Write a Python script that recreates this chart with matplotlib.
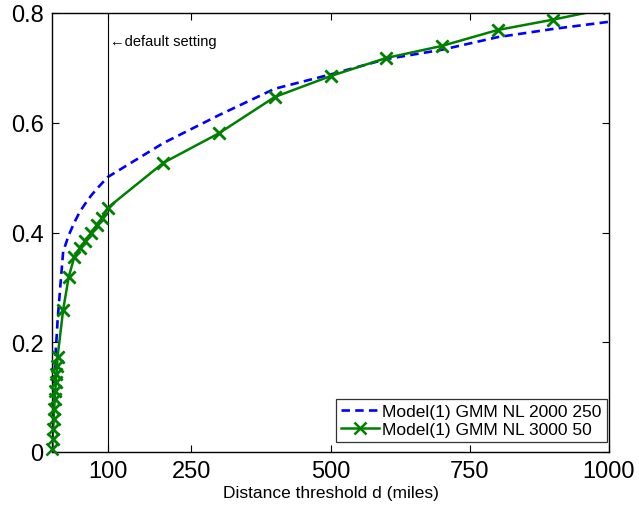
import matplotlib
matplotlib.use("Agg")
import matplotlib.pyplot as plt

plt.rcParams['font.family'] = ['Liberation Sans', 'DejaVu Sans']

d_vals = [0, 1, 2, 3, 4, 5, 6, 7, 8, 9, 10, 20, 30, 40, 50, 60, 70, 80, 90, 100,
          200, 300, 400, 500, 600, 700, 800, 900, 1000]
blue_vals = [0.0, 0.03, 0.06, 0.09, 0.12, 0.15, 0.17, 0.19, 0.205, 0.22, 0.24,
             0.365, 0.395, 0.418, 0.438, 0.453, 0.467, 0.479, 0.49, 0.501,
             0.563, 0.614, 0.662, 0.688, 0.716, 0.733, 0.756, 0.771, 0.784]
green_vals = [0.005, 0.024, 0.042, 0.060, 0.078, 0.097, 0.111, 0.128, 0.142, 0.157, 0.173,
              0.259, 0.319, 0.355, 0.372, 0.385, 0.399, 0.413, 0.427, 0.445,
              0.527, 0.581, 0.647, 0.685, 0.718, 0.740, 0.769, 0.788, 0.809]
blue_label = "Model(1) GMM NL 2000 250"
green_label = "Model(1) GMM NL 3000 50"
x_ticks = [100, 250, 500, 750, 1000]
y_ticks = [0, 0.2, 0.4, 0.6, 0.8]
y_tick_labels = ['0', '0.2', '0.4', '0.6', '0.8']
default_d = 100

fig = plt.figure(figsize=(6.39, 5.10), dpi=100)
ax = fig.add_axes([52/639, 57/510, 557/639, 439/510])

ax.set_xlim(0, 1000)
ax.set_ylim(0, 0.8)

ax.plot(d_vals, blue_vals, color='#0000FF', linestyle=(0, (3.2, 2.0)), linewidth=1.9,
        label=blue_label)
ax.plot(d_vals, green_vals, color='#008000', linestyle='-', linewidth=1.8,
        marker='x', markersize=9, markeredgewidth=1.8, label=green_label)
# markers are not clipped by the axes box (as in the original figure)
ymax = ax.get_ylim()[1]
vis = [(d, g) for d, g in zip(d_vals, green_vals) if g <= ymax]
ax.plot([p[0] for p in vis], [p[1] for p in vis], linestyle='none', color='#008000',
        marker='x', markersize=9, markeredgewidth=1.8, clip_on=False, zorder=3)

ax.axvline(default_d, color='black', linewidth=0.8)
ax.text(default_d + 4, 0.749, '\u2190default setting', fontsize=10.5,
        va='center', ha='left', family=['Liberation Sans', 'DejaVu Sans'])

ax.set_xticks(x_ticks)
ax.set_xticklabels([str(t) for t in x_ticks])
ax.set_yticks(y_ticks)
ax.set_yticklabels(y_tick_labels)
ax.tick_params(direction='in', length=5, width=0.8, labelsize=17,
               top=True, right=True, pad=6)
for s in ax.spines.values():
    s.set_linewidth(1.0)
    s.set_color('black')

ax.set_xlabel('Distance threshold d (miles)', fontsize=12.5, labelpad=2)

leg = ax.legend(loc='lower right', bbox_to_anchor=(0.9964, 0.0228), fontsize=12.5,
                frameon=True, fancybox=False, handlelength=2.2, handletextpad=0.2,
                labelspacing=0.15, borderpad=0.3, borderaxespad=0.0)
leg.get_frame().set_edgecolor('black')
leg.get_frame().set_linewidth(0.9)
leg.set_zorder(5)

fig.savefig('out.png', dpi=100)
